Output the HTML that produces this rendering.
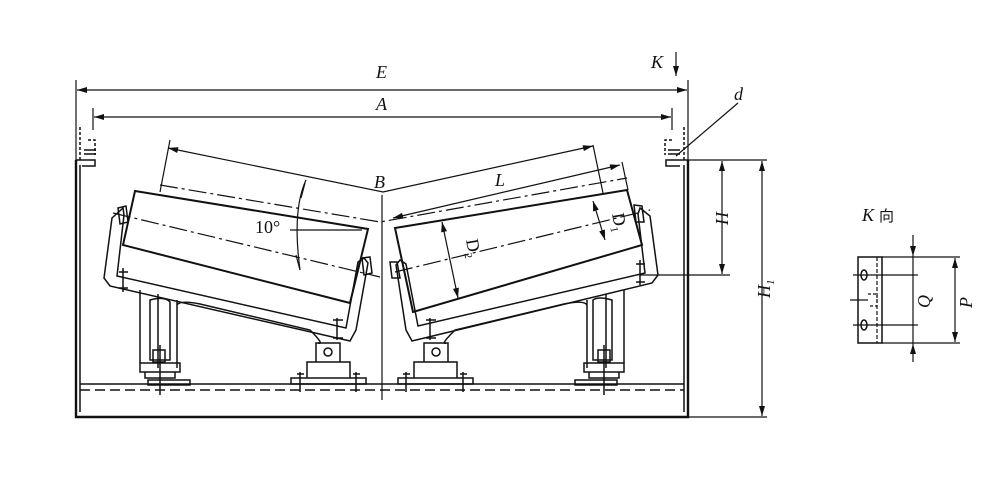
<!DOCTYPE html>
<html><head><meta charset="utf-8"><style>
html,body{margin:0;padding:0;background:#fff;}
svg{display:block}
text{font-family:"Liberation Serif","Noto Serif CJK SC",serif;font-style:italic;fill:#111;}
</style></head><body>
<svg width="1000" height="492" viewBox="0 0 1000 492" xmlns="http://www.w3.org/2000/svg">
<defs>
<marker id="a" viewBox="0 0 10 6" refX="10" refY="3" markerWidth="11" markerHeight="6" orient="auto-start-reverse" markerUnits="userSpaceOnUse"><path d="M0,0L10,3L0,6z" fill="#111"/></marker>
</defs>
<g stroke="#111" fill="none" stroke-width="1.5">
<path d="M76,160V417H688V160" stroke-width="2.4"/>
<path d="M80,165V412M684,165V412"/>
<path d="M80,384H684" />
<path d="M80,390H684" stroke-dasharray="10,5"/>
<path d="M76,160H95V166H82M688,160H666V166H680" />
<path d="M80,127V160M684,127V160" stroke-dasharray="3,2"/>
<path d="M88,140H95V155M672,140H665V155" stroke-dasharray="3,2"/>
<path d="M84,150H96M84,154H96M668,150H680M668,154H680"/>
<path d="M76,80V160M688,80V160M93,108V130M672,108V130" stroke-width="1.2"/>
<path d="M77,90H687" marker-start="url(#a)" marker-end="url(#a)" stroke-width="1.2"/>
<path d="M94,117H671" marker-start="url(#a)" marker-end="url(#a)" stroke-width="1.2"/>
<path d="M676,52V76" marker-end="url(#a)" stroke-width="1.2"/>
<path d="M738,103L676,156" stroke-width="1.2"/>
<path d="M382,195V400" stroke-width="1.2"/>
<path d="M170,140L160,192M593,145L603,193M622,162L628,190" stroke-width="1.2"/>
<path d="M168,148L383,192L593,146" marker-start="url(#a)" marker-end="url(#a)" stroke-width="1.2"/>
<path d="M393,218L620,165" marker-start="url(#a)" marker-end="url(#a)" stroke-width="1.2"/>
<path d="M160,185L380,222L627,178" stroke-dasharray="18,4,3,4" stroke-width="1.2"/>
<path d="M113,213L380,277" stroke-dasharray="18,4,3,4" stroke-width="1.2"/>
<path d="M395,272L650,210" stroke-dasharray="18,4,3,4" stroke-width="1.2"/>
<path d="M306,180Q292,210 300,270" stroke-width="1.2"/>
<path d="M290,230H362" stroke-width="1.2"/>
<path d="M305,183L301,198M300,270L296,255" stroke-width="1.2"/>
<path d="M135,191L368,229L350,303L123,245Z" stroke-width="2"/>
<path d="M123,208L112,218L104,278L110,286L350,341L356,330L368,263L364,258L358,262L346,328L117,276L124,215Z"/>
<path d="M118,208L126,206L128,222L120,224Z"/>
<path d="M362,258L370,257L372,273L364,275Z"/>
<path d="M140,290V363M158,294V368M177,300V368M150,300Q165,296 170,302V360H150Z"/>
<path d="M177,305Q180,300 200,304L310,330Q325,345 318,343"/>
<path d="M140,363H180V372H140ZM145,372H175V378H145ZM148,380H190V385H148Z"/>
<path d="M160,345V395M153,350H165V362H153Z"/>
<path d="M123,268V292M119,272H128M119,288H128M337,318V340M333,320H343M333,338H343"/>
<path d="M316,343H340V362H316ZM307,362H350V378H307ZM291,378H366V384H291Z"/>
<path d="M300,372V392M297,374H304M356,372V392M353,374H360"/>
<circle cx="328" cy="352" r="4"/>
<path d="M395,228L627,190L642,245L413,312Z" stroke-width="2"/>
<path d="M640,208L650,216L658,275L652,283L412,341L406,330L396,265L400,260L406,264L418,326L645,273L638,214Z"/>
<path d="M642,206L634,205L636,222L644,222Z"/>
<path d="M397,262L390,262L392,278L400,278Z"/>
<path d="M624,290V363M606,294V368M587,300V368M593,300Q598,296 612,300V360H593Z"/>
<path d="M587,305Q584,300 564,304L455,330Q440,345 446,343"/>
<path d="M584,363H624V372H584ZM589,372H619V378H589ZM575,380H617V385H575Z"/>
<path d="M604,345V395M598,350H610V362H598Z"/>
<path d="M640,260V285M636,264H645M636,282H645M430,318V340M426,320H436M426,338H436"/>
<path d="M424,343H448V362H424ZM414,362H457V378H414ZM398,378H473V384H398Z"/>
<path d="M406,372V392M403,374H410M463,372V392M460,374H467"/>
<circle cx="436" cy="352" r="4"/>
<path d="M593,201L605,240" marker-start="url(#a)" marker-end="url(#a)" stroke-width="1.2"/>
<path d="M442,222L458,298" marker-start="url(#a)" marker-end="url(#a)" stroke-width="1.2"/>
<path d="M688,160H767M640,275H730M688,417H767" stroke-width="1.2"/>
<path d="M722,161V274" marker-start="url(#a)" marker-end="url(#a)" stroke-width="1.2"/>
<path d="M762,161V416" marker-start="url(#a)" marker-end="url(#a)" stroke-width="1.2"/>
<path d="M858,257H882V343H858Z"/>
<path d="M877,257V343" stroke-dasharray="4,2" stroke-width="1.2"/>
<path d="M882,257H960M882,343H960M853,275H918M853,325H918M850,300H868" stroke-width="1.2"/>
<path d="M868,294H877V306H868" stroke-dasharray="3,2" stroke-width="1.2"/>
<ellipse cx="864" cy="275" rx="3" ry="5"/><ellipse cx="864" cy="325" rx="3" ry="5"/>
<path d="M913,235V256" marker-end="url(#a)" stroke-width="1.2"/>
<path d="M913,362V344" marker-end="url(#a)" stroke-width="1.2"/>
<path d="M913,256V344" stroke-width="1.2"/>
<path d="M955,258V342" marker-start="url(#a)" marker-end="url(#a)" stroke-width="1.2"/>
</g>
<g font-size="18">
<text x="376" y="78">E</text>
<text x="376" y="110">A</text>
<text x="651" y="68">K</text>
<text x="734" y="100">d</text>
<text x="374" y="188">B</text>
<text x="495" y="186">L</text>
<text x="255" y="233" style="font-style:normal">10°</text>
<text x="862" y="221">K</text>
<text x="879" y="221" style="font-style:normal;font-family:'Noto Sans CJK SC',sans-serif" font-size="15">向</text>
<text transform="translate(728,225) rotate(-90)">H</text>
<text transform="translate(770,298) rotate(-90)">H<tspan font-size="11" dy="4">1</tspan></text>
<text transform="translate(930,308) rotate(-90)">Q</text>
<text transform="translate(972,308) rotate(-90)">P</text>
<text transform="translate(612,214) rotate(80)" style="font-style:normal">D<tspan font-size="11" dy="4">1</tspan></text>
<text transform="translate(466,240) rotate(80)" style="font-style:normal">D<tspan font-size="11" dy="4">2</tspan></text>
</g>
</svg>
</body></html>
